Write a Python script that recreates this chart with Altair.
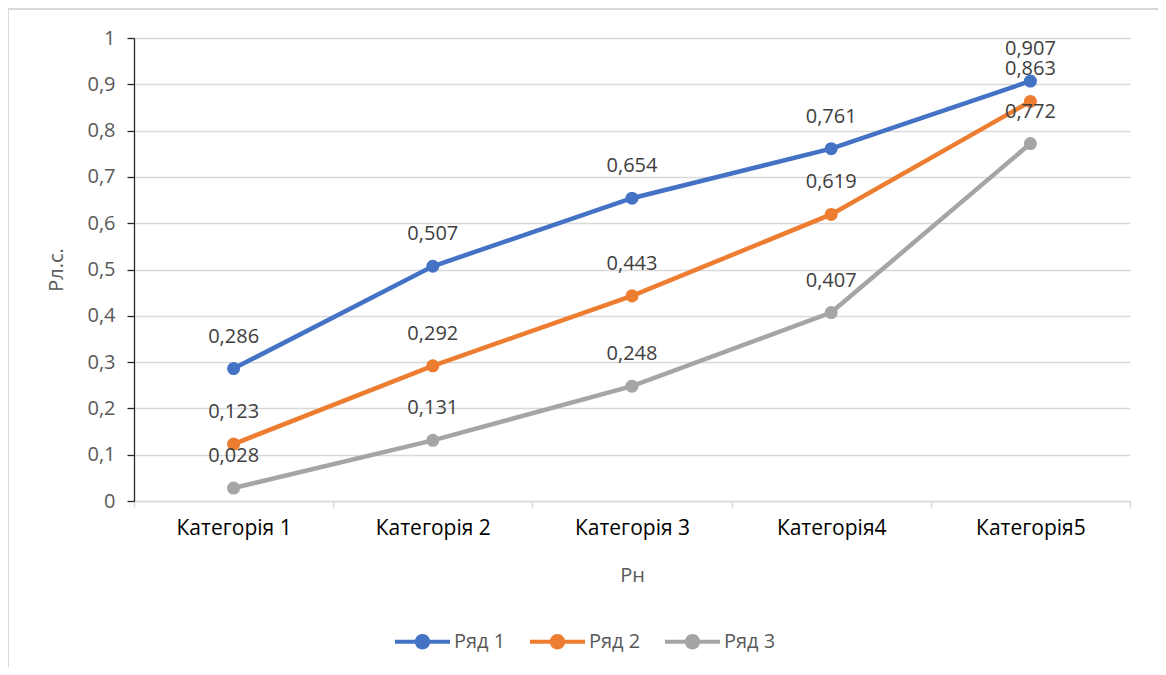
import altair as alt
import pandas as pd

categories = ["Категорія 1", "Категорія 2", "Категорія 3", "Категорія4", "Категорія5"]
series_names = ["Ряд 1", "Ряд 2", "Ряд 3"]
row1 = [0.286, 0.507, 0.654, 0.761, 0.907]
row2 = [0.123, 0.292, 0.443, 0.619, 0.863]
row3 = [0.028, 0.131, 0.248, 0.407, 0.772]
y_ticks = [0, 0.1, 0.2, 0.3, 0.4, 0.5, 0.6, 0.7, 0.8, 0.9, 1]
colors = ["#4472C4", "#ED7D31", "#A5A5A5"]

rows = []
for name, vals in zip(series_names, [row1, row2, row3]):
    for c, v in zip(categories, vals):
        rows.append({"cat": c, "series": name, "value": v,
                     "label": f"{v:.3f}".replace(".", ",")})
df = pd.DataFrame(rows)

FONT = "Open Sans"
W, H = 996, 463

x = alt.X("cat:N", sort=categories, title="Рн",
          scale=alt.Scale(type="band", paddingInner=0, paddingOuter=0),
          axis=alt.Axis(tickBand="extent", labelAngle=0, labelFontSize=21,
                        labelColor="#000000", labelPadding=10, titleFontSize=20,
                        titleColor="#595959", titleFontWeight="normal", titlePadding=27,
                        domainColor="#d9d9d9", domainWidth=1.5, tickColor="#d9d9d9",
                        tickWidth=1.5, tickSize=6, grid=False))
y = alt.Y("value:Q", title="Рл.с.",
          scale=alt.Scale(domain=[0, 1], nice=False, zero=True),
          axis=alt.Axis(values=y_ticks, labelExpr="datum.value == 0 ? '0' : datum.value == 1 ? '1' : replace(format(datum.value, '.1f'), '.', ',')",
                        labelFontSize=20, labelColor="#595959", labelPadding=12,
                        titleFontSize=20, titleColor="#595959", titleFontWeight="normal",
                        titlePadding=20, domainColor="#262626", domainWidth=1.3,
                        tickColor="#262626", tickWidth=1.3, tickSize=7,
                        gridColor="#d9d9d9", gridWidth=1.5))

legend = alt.Legend(title=None, orient="none", direction="horizontal",
                    legendX=261, legendY=576,
                    symbolType="M-1,-0.075 L1,-0.075 L1,0.075 L-1,0.075 Z M0.28,0 A0.28,0.28 0 1 1 -0.28,0 A0.28,0.28 0 1 1 0.28,0 Z",
                    symbolSize=3025, symbolStrokeWidth=0, symbolOpacity=1,
                    labelFontSize=20, labelColor="#595959",
                    columnPadding=24, labelOffset=4)
color = alt.Color("series:N", scale=alt.Scale(domain=series_names, range=colors),
                  legend=legend)

base = alt.Chart(df)
lines = base.mark_line(strokeWidth=4.5).encode(x=x, y=y, color=color)
points = base.mark_point(filled=True, size=170, opacity=1).encode(x=x, y=y, color=color)
labels = base.mark_text(dy=-32, fontSize=20, color="#404040", font=FONT).encode(
    x=x, y=y, text="label:N")

border = alt.Chart(pd.DataFrame({"a": [0]})).mark_rect(
    fill=None, stroke="#d9d9d9", strokeWidth=2).encode(
    x=alt.value(-126), x2=alt.value(1026), y=alt.value(-29), y2=alt.value(700))

chart = alt.layer(border, lines, points, labels).properties(
    width=W, height=H,
    autosize=alt.AutoSizeParams(type="none"),
    padding={"left": 126, "top": 30, "right": 28, "bottom": 166},
).configure(font=FONT).configure_view(stroke=None)

chart.save("out.html", embed_options={"renderer": "svg", "actions": False})
